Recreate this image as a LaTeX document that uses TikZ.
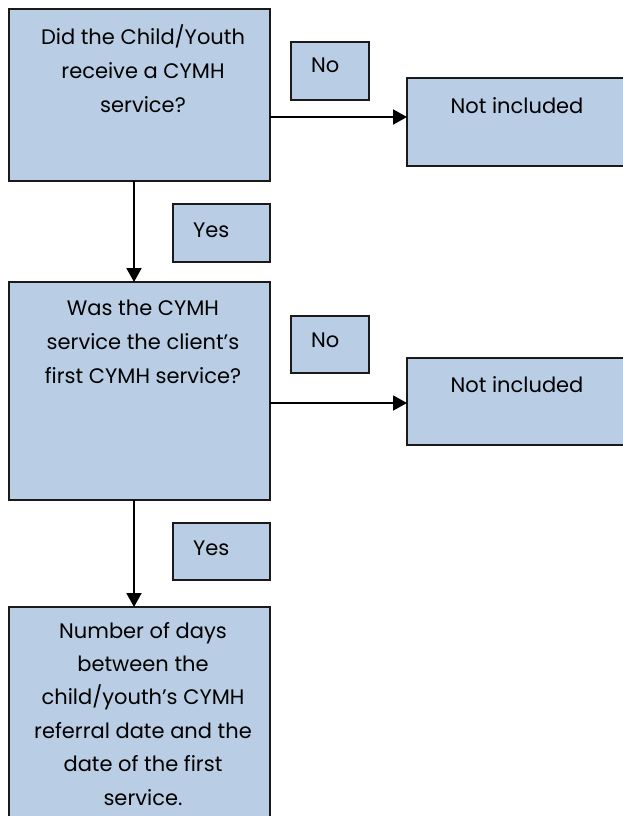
\documentclass[tikz,border=0pt]{standalone}
\usepackage{fontspec}
\setmainfont{Poppins}
\usetikzlibrary{arrows.meta}
\definecolor{boxfill}{HTML}{B9CDE5}
\definecolor{boxline}{HTML}{1A1A1A}
\tikzset{
  box/.style={draw=boxline, fill=boxfill, line width=1.9pt, rectangle, inner sep=0pt, outer sep=0pt},
  txt/.style={inner sep=0pt, align=center, font=\fontsize{21}{34}\selectfont, text=black},
  txtb/.style={inner sep=0pt, align=center, font=\fontsize{21}{33.4}\selectfont, text=black},
  arr/.style={line width=1.9pt, draw=black, -{Triangle[length=14pt,width=15pt]}},
}
\begin{document}
\begin{tikzpicture}[x=1pt,y=-1pt]
\clip (0,0) rectangle (623,816);
\fill[white] (0,0) rectangle (623,816);
% boxes
\node[box, minimum width=261pt, minimum height=172pt] (b1) at (139.5,95) {};
\node[box, minimum width=261pt, minimum height=218pt] (b2) at (139.5,391) {};
\node[box, minimum width=261pt, minimum height=223pt] (b3) at (139.5,718.5) {};
\node[box, minimum width=220pt, minimum height=88pt] (ni1) at (517,122) {};
\node[box, minimum width=220pt, minimum height=87pt] (ni2) at (517,401.5) {};
\node[box, minimum width=78pt, minimum height=58pt] (no1) at (330,71) {};
\node[box, minimum width=78pt, minimum height=57pt] (no2) at (330,344.5) {};
\node[box, minimum width=97pt, minimum height=58pt] (yes1) at (221.5,233) {};
\node[box, minimum width=97pt, minimum height=57pt] (yes2) at (221.5,551.5) {};
% texts (anchored at the baseline of the last line)
\node[txt, anchor=base] (t1) at (143,112) {Did the Child/Youth\\receive a CYMH\\service?};
\node[txt, anchor=base] (t2) at (143,383) {Was the CYMH\\service the client’s\\first CYMH service?};
\node[txtb, anchor=base] (t3) at (143,805) {Number of days\\between the\\child/youth’s CYMH\\referral date and the\\date of the first\\service.};
\node[txt, anchor=base] (tn1) at (517,113) {Not included};
\node[txt, anchor=base] (tn2) at (517,392) {Not included};
\node[txt, anchor=base west] (tno1) at (311,73) {No};
\node[txt, anchor=base west] (tno2) at (311,347) {No};
\node[txt, anchor=base west] (tyes1) at (193,237) {Yes};
\node[txt, anchor=base west] (tyes2) at (193,555) {Yes};
% connectors
\draw[arr] (b1.east |- 0,117) -- (ni1.west |- 0,117);
\draw[arr] (b2.east |- 0,403) -- (ni2.west |- 0,403);
\draw[arr] (b1.south -| 134,0) -- (b2.north -| 134,0);
\draw[arr] (b2.south -| 134,0) -- (b3.north -| 134,0);
\end{tikzpicture}
\end{document}
